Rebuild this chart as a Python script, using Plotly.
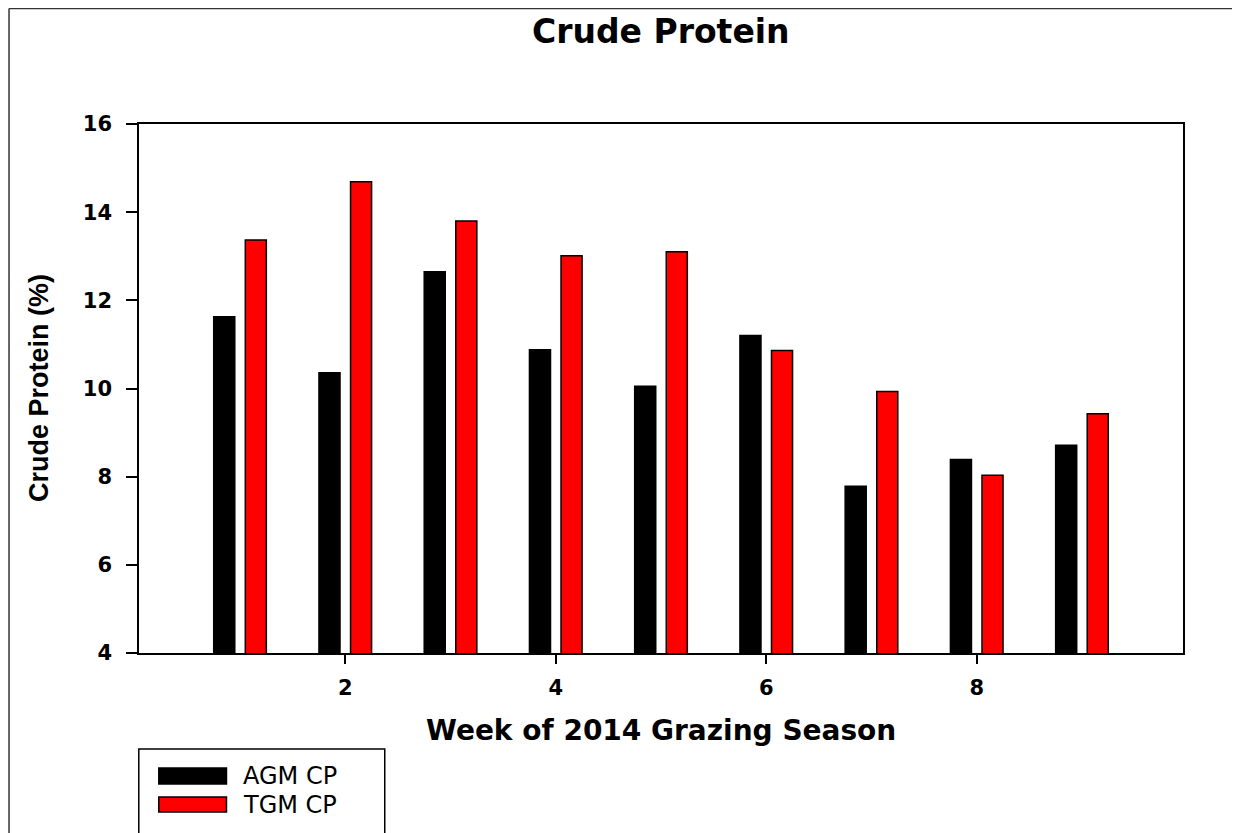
import plotly.graph_objects as go

weeks = [1, 2, 3, 4, 5, 6, 7, 8, 9]
agm_cp = [11.63, 10.36, 12.65, 10.88, 10.05, 11.20, 7.78, 8.39, 8.71]
tgm_cp = [13.37, 14.69, 13.80, 13.01, 13.10, 10.86, 9.93, 8.03, 9.43]
series_names = ["AGM CP", "TGM CP"]
x_ticks = [2, 4, 6, 8]
y_ticks = [4, 6, 8, 10, 12, 14, 16]

fig = go.Figure()
fig.add_trace(go.Bar(x=weeks, y=agm_cp, name=series_names[0], width=0.2, offset=-0.25,
                     marker=dict(color="#000000", line=dict(color="#000000", width=1.5))))
fig.add_trace(go.Bar(x=weeks, y=tgm_cp, name=series_names[1], width=0.2, offset=0.05,
                     marker=dict(color="#FF0000", line=dict(color="#000000", width=1.5))))

tickfont = dict(family="DejaVu Sans", size=21, color="black", weight="bold")

# page offset of the figure (body margin) is 8px
OFF = 8
fig.update_layout(
    width=1240 - OFF, height=833 - OFF,
    margin=dict(l=138.5 - OFF, r=57.3, t=124 - OFF, b=180, pad=0),
    paper_bgcolor="white", plot_bgcolor="white",
    showlegend=False,
    barmode="overlay",
    xaxis=dict(range=[0.04, 9.96], tickvals=x_ticks, ticks="outside", ticklen=9, tickwidth=1.5,
               tickcolor="black", showline=True, linecolor="black", linewidth=1.5, mirror=True,
               showgrid=False, zeroline=False, tickfont=tickfont, ticklabelstandoff=6),
    yaxis=dict(range=[4, 16], tickvals=y_ticks, ticks="outside", ticklen=11, tickwidth=1.5,
               tickcolor="black", showline=True, linecolor="black", linewidth=1.5, mirror=True,
               showgrid=False, zeroline=False, tickfont=tickfont, ticklabelstandoff=10),
)

def px(xp):
    return (xp - 138.5) / 1044.2

def py(yp):
    return (653 - yp) / 529

annotations = [
    dict(text="Crude Protein", x=0.5, y=py(32), xref="paper", yref="paper", showarrow=False,
         xanchor="center", yanchor="middle",
         font=dict(family="DejaVu Sans", size=33, color="black", weight="bold")),
    dict(text="Week of 2014 Grazing Season", x=0.5, y=py(730), xref="paper", yref="paper",
         showarrow=False, xanchor="center", yanchor="middle",
         font=dict(family="DejaVu Sans", size=28, color="black", weight="bold")),
    dict(text="Crude Protein (%)", x=px(38), y=0.5, xref="paper", yref="paper", showarrow=False,
         textangle=-90, xanchor="center", yanchor="middle",
         font=dict(family="Liberation Sans", size=27, color="black", weight="bold")),
    dict(text=series_names[0], x=px(241), y=py(776), xref="paper", yref="paper", showarrow=False,
         xanchor="left", yanchor="middle",
         font=dict(family="DejaVu Sans", size=24, color="black")),
    dict(text=series_names[1], x=px(241), y=py(804.5), xref="paper", yref="paper", showarrow=False,
         xanchor="left", yanchor="middle",
         font=dict(family="DejaVu Sans", size=24, color="black")),
]
fig.update_layout(annotations=annotations)

shapes = [
    # outer frame (left and top)
    dict(type="line", xref="paper", yref="paper", x0=px(8.5), x1=px(8.5), y0=py(840), y1=py(8.5),
         line=dict(color="#333333", width=1.5)),
    dict(type="line", xref="paper", yref="paper", x0=px(8.5), x1=px(1245), y0=py(8.5), y1=py(8.5),
         line=dict(color="#333333", width=1.5)),
    # legend box
    dict(type="rect", xref="paper", yref="paper", x0=px(138.3), x1=px(384.3), y0=py(840), y1=py(749),
         line=dict(color="black", width=1.5), fillcolor="rgba(0,0,0,0)"),
    # legend swatches
    dict(type="rect", xref="paper", yref="paper", x0=px(158.3), x1=px(226), y0=py(784), y1=py(768),
         line=dict(color="black", width=1.5), fillcolor="#000000"),
    dict(type="rect", xref="paper", yref="paper", x0=px(158.3), x1=px(226), y0=py(812), y1=py(797),
         line=dict(color="black", width=1.5), fillcolor="#FF0000"),
]
fig.update_layout(shapes=shapes)

fig.write_html("out.html")
